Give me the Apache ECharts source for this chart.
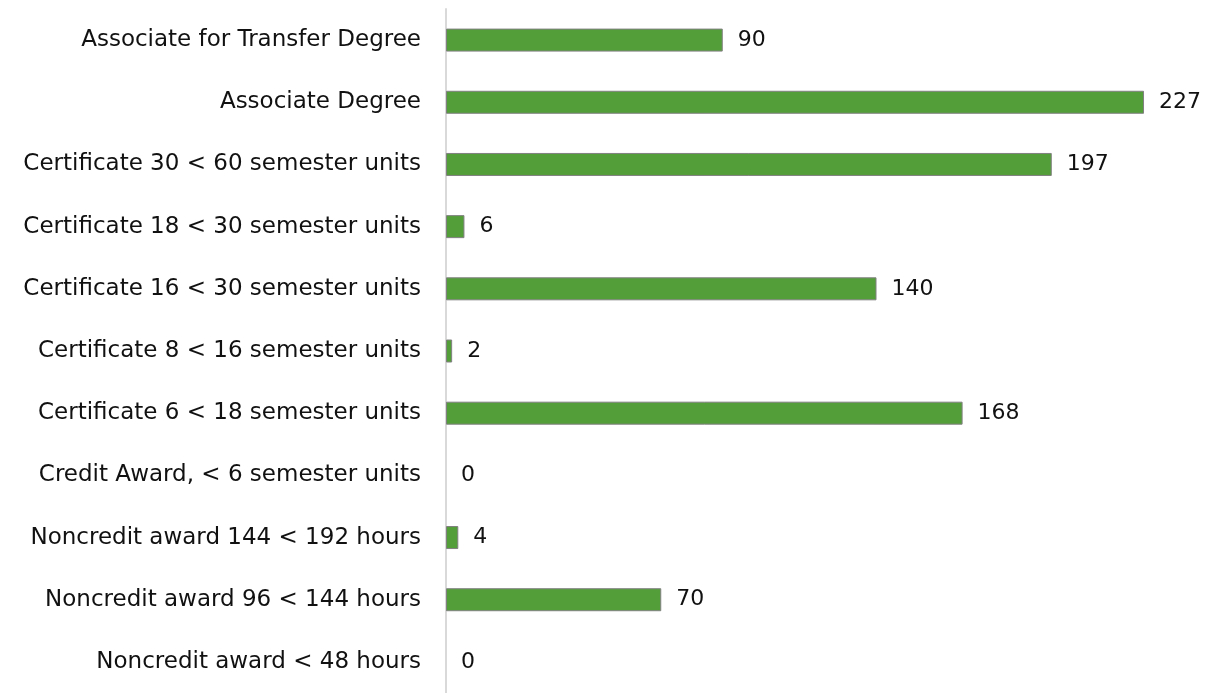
<!DOCTYPE html>
<html>
<head>
<meta charset="utf-8">
<script src="https://cdn.jsdelivr.net/npm/echarts@6/dist/echarts.min.js"></script>
<style>
  html, body { margin: 0; padding: 0; background: #fff; }
  #chart { width: 1212px; height: 693px; }
</style>
</head>
<body>
<div id="chart"></div>
<script>
var categories = [
  'Associate for Transfer Degree',
  'Associate Degree',
  'Certificate 30 < 60 semester units',
  'Certificate 18 < 30 semester units',
  'Certificate 16 < 30 semester units',
  'Certificate 8 < 16 semester units',
  'Certificate 6 < 18 semester units',
  'Credit Award, < 6 semester units',
  'Noncredit award 144 < 192 hours',
  'Noncredit award 96 < 144 hours',
  'Noncredit award < 48 hours'
];
var awards = [90, 227, 197, 6, 140, 2, 168, 0, 4, 70, 0];

// zero bars have no visible outline in the original
var barData = awards.map(function (v) {
  return v === 0 ? { value: v, itemStyle: { borderWidth: 0 } } : v;
});

var myChart = echarts.init(document.getElementById('chart'));
var option = {
  animation: false,
  grid: { left: 446, right: 28, top: 9, bottom: -9 },
  xAxis: {
    type: 'value',
    min: 0,
    max: 240,
    show: false
  },
  yAxis: {
    type: 'category',
    inverse: true,
    data: categories,
    axisLine: { lineStyle: { color: '#d9d9d9', width: 2 } },
    axisTick: { show: false },
    axisLabel: {
      color: '#111',
      fontFamily: 'DejaVu Sans',
      fontSize: 23,
      margin: 25
    }
  },
  series: [{
    type: 'bar',
    data: barData,
    barWidth: 23,
    itemStyle: { color: '#549e39', borderColor: '#808080', borderWidth: 1 },
    label: {
      show: true,
      position: 'right',
      distance: 15,
      color: '#111',
      fontFamily: 'DejaVu Sans',
      fontSize: 22
    }
  }]
};
myChart.setOption(option);
</script>
</body>
</html>
